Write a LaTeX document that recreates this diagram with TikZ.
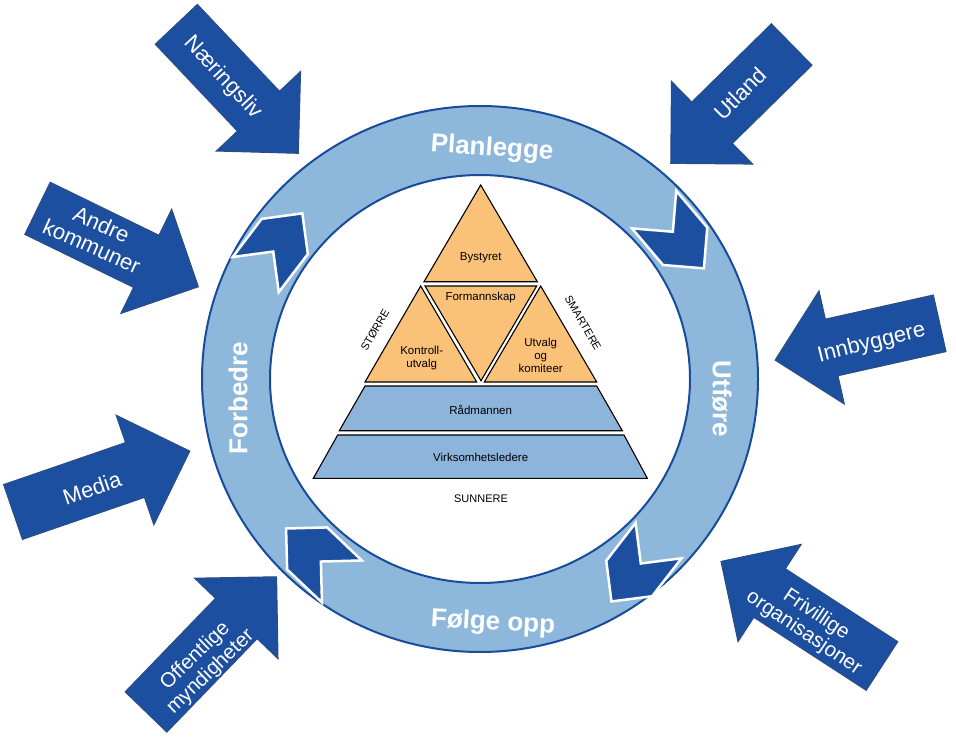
\documentclass[tikz,border=0pt]{standalone}
\usepackage{fontspec}
\setmainfont{Liberation Sans}
\definecolor{ringfill}{RGB}{141,184,220}
\definecolor{ringline}{RGB}{25,75,155}
\definecolor{darkb}{RGB}{28,79,160}
\definecolor{darkbl}{RGB}{45,78,130}
\definecolor{pyrorange}{RGB}{250,193,120}
\definecolor{pyrblue}{RGB}{141,180,218}
\newcommand\mkarrow[4]{%
  \begin{scope}[shift={(#1,#2)},rotate=#3]
    \draw[barrow] (0,-29) -- ({#4-58},-29) -- ({#4-58},-58) -- (#4,0) -- ({#4-58},58) -- ({#4-58},29) -- (0,29) -- cycle;
  \end{scope}}
\newcommand\mkchev[3]{%
  \begin{scope}[shift={(#1,#2)},rotate=#3]
    \draw[chev] (38.5,0) -- (9.5,29) -- (-38.5,29) -- (-9.5,0) -- (-38.5,-29) -- (9.5,-29) -- cycle;
  \end{scope}}
\begin{document}
\begin{tikzpicture}[x=1pt,y=-1pt,
  barrow/.style={fill=darkb,draw=darkbl,line width=1pt,line join=miter},
  chev/.style={fill=darkb,draw=white,line width=2.5pt,line join=miter},
  atext/.style={text=white,font=\fontsize{22}{24}\selectfont,align=center,inner sep=0pt},
  atextsm/.style={text=white,font=\fontsize{20.5}{22}\selectfont,align=center,inner sep=0pt},
  rtext/.style={text=white,font=\bfseries\fontsize{26}{28}\selectfont,inner sep=0pt},
  pyro/.style={fill=pyrorange,draw=black,line width=1.1pt,line join=miter},
  pyrb/.style={fill=pyrblue,draw=black,line width=1.1pt,line join=miter},
  ptext/.style={font=\fontsize{11.5}{13}\selectfont,align=center,inner sep=0pt,text=black},
  stext/.style={font=\fontsize{11}{13}\selectfont,inner sep=0pt,text=black}]
\useasboundingbox (0,0) rectangle (956,738);
\fill[white] (0,0) rectangle (956,738);

% block arrows
\mkarrow{176.3}{24.3}{-46.6}{177.6}
\mkarrow{37.5}{208.3}{-26}{179}
\mkarrow{13}{512}{19}{187}
\mkarrow{146}{712}{46}{188}
\mkarrow{791.7}{44.5}{-135.5}{169.6}
\mkarrow{939.7}{323.3}{192.6}{168.7}
\mkarrow{882}{666}{147}{192}

\node[atext,rotate=-47] (naer) at (223,78) {Næringsliv};
\node[atext,rotate=-24] (andre) at (96.7,235) {Andre\\kommuner};
\node[atext,rotate=19] (media) at (92,488) {Media};
\node[atextsm,rotate=44] (offm) at (203,664) {Offentlige\\myndigheter};
\node[atext,rotate=45] (utland) at (740,93.3) {Utland};
\node[atext,rotate=14] (innb) at (871.7,343.3) {Innbyggere};
\node[atextsm,rotate=-34] (friv) at (810,624) {Frivillige\\organisasjoner};

% ring
\fill[ringfill,even odd rule] (480,379) ellipse [x radius=278,y radius=273] (480,379) ellipse [x radius=210,y radius=204];
\draw[ringline,line width=2pt] (480,379) ellipse [x radius=278,y radius=273];
\draw[ringline,line width=2pt] (480,379) ellipse [x radius=210,y radius=204];

% chevrons
\mkchev{679}{239}{-49.7}
\mkchev{635}{571}{-127.7}
\mkchev{314}{555}{136.5}
\mkchev{279}{244}{52.7}

% ring labels
\node[rtext,rotate=-4] (plan) at (492,149) {Planlegge};
\node[rtext,rotate=-90] (utf) at (722,399) {Utføre};
\node[rtext,rotate=-3] (folg) at (493,623) {Følge opp};
\node[rtext,rotate=90] (forb) at (238,398) {Forbedre};

% pyramid
\draw[pyro] (480.7,185) -- (537.3,281.7) -- (424,281.7) -- cycle;
\draw[pyro] (420.7,286) -- (476.7,382) -- (365,382) -- cycle;
\draw[pyro] (425,286) -- (536.7,286) -- (481,380.7) -- cycle;
\draw[pyro] (540.7,286) -- (596.7,382) -- (484.3,382) -- cycle;
\draw[pyrb] (365,386) -- (596.7,386) -- (622.3,430.7) -- (339.3,430.7) -- cycle;
\draw[pyrb] (337.7,435) -- (624,435) -- (647.3,478.3) -- (313.3,478.3) -- cycle;

\node[ptext] (bys) at (480.7,258) {Bystyret};
\node[ptext] (form) at (480.7,298) {Formannskap};
\node[ptext] (kont) at (421.7,358) {Kontroll-\\utvalg};
\node[ptext] (utv) at (540.7,355) {Utvalg\\og\\komiteer};
\node[ptext] (rad) at (480.7,410) {Rådmannen};
\node[ptext] (virk) at (480.7,457.3) {Virksomhetsledere};
\node[stext,rotate=60] (storre) at (375,330) {STØRRE};
\node[stext,rotate=-60] (smart) at (583,323) {SMARTERE};
\node[stext] (sunn) at (481,499) {SUNNERE};
\end{tikzpicture}
\end{document}
